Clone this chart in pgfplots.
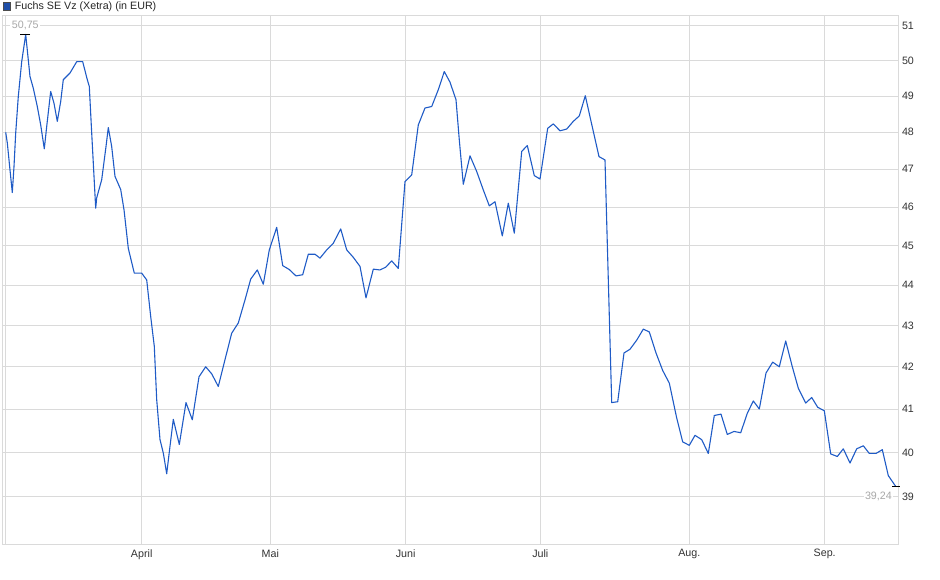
\documentclass[border=0pt]{standalone}
\usepackage{pgfplots}
\pgfplotsset{compat=1.18}
\usepackage{fontspec}
\setmainfont{Liberation Sans}
\definecolor{linecol}{HTML}{1F5BC6}
\definecolor{gridcol}{HTML}{DADADA}
\definecolor{labcol}{HTML}{333333}
\definecolor{extcol}{HTML}{A8A8A8}
\definecolor{boxcol}{HTML}{1F4FA8}
\begin{document}
\begin{tikzpicture}
\useasboundingbox (0pt,0pt) rectangle (940pt,579pt);
% title with legend square
\draw[fill=boxcol, draw=black!70, line width=0.6pt] (3.3pt,569pt) rectangle (10.7pt,576.6pt);
\node[anchor=west, inner sep=0pt, text=black!85, font=\fontsize{10.7}{12}\selectfont] at (14.6pt,572.5pt) {Fuchs SE Vz (Xetra) (in EUR)};
\begin{axis}[
    at={(2.7pt,34pt)}, anchor=south west,
    scale only axis,
    width=895.3pt, height=529pt,
    xmin=2.7, xmax=898,
    ymode=log,
    ymin=37.95, ymax=51.29,
    xtick={141.7,270.3,405.7,540.3,689.3,824.7},
    xticklabels={April,Mai,Juni,Juli,Aug.,Sep.},
    extra x ticks={5.3},
    extra x tick labels={},
    ytick={39,40,41,42,43,44,45,46,47,48,49,50,51},
    yticklabels={39,40,41,42,43,44,45,46,47,48,49,50,51},
    yticklabel pos=right,
    major tick length=0pt,
    grid=major,
    grid style={gridcol, line width=1pt},
    axis line style={gridcol, line width=1pt},
    tick label style={text=labcol, font=\fontsize{10.7}{12}\selectfont},
    yticklabel style={xshift=0.5pt},
    xticklabel style={yshift=-1pt},
    clip=true,
]
\addplot[linecol, line width=1.1pt, line join=round] coordinates {
(5.7,48.0) (7.3,47.71) (10,46.98) (12.3,46.38) (14,47.07) (15.7,47.98)
(18.3,48.99) (21.7,49.97) (25.7,50.75) (30,49.55) (33.3,49.22) (37.3,48.71)
(40.7,48.2) (44.3,47.55) (46.7,48.16) (50.7,49.13) (54,48.80) (57.3,48.30)
(60.7,48.85) (63.3,49.46) (70,49.65) (76.7,49.97) (82.7,49.97) (87.3,49.46)
(89.3,49.27) (91.7,47.98) (95.7,45.97) (96.7,46.24) (101.7,46.72) (106,47.61)
(108.3,48.13) (111.7,47.61) (115,46.81) (120.7,46.46) (124,45.93) (128.3,44.93)
(134.3,44.30) (141.7,44.30) (146.7,44.13) (150.7,43.22) (154.3,42.49) (156.7,41.22)
(160,40.29) (163.3,39.99) (166.7,39.52) (170,40.14) (173.3,40.76) (179.3,40.18)
(186,41.15) (192.3,40.75) (199,41.76) (205.7,42.0) (211.7,41.83) (218.3,41.53)
(225,42.17) (231.7,42.81) (238.3,43.06) (245,43.63) (250.7,44.15) (257.3,44.38)
(263.3,44.02) (269.3,44.89) (276.7,45.47) (282.7,44.49) (289.3,44.39) (296,44.23)
(302.7,44.26) (308.3,44.78) (315,44.78) (320,44.68) (326.7,44.89) (333.3,45.06)
(340.7,45.43) (346.7,44.89) (353.3,44.70) (360,44.47) (366,43.68) (373.3,44.40)
(380,44.38) (385.7,44.45) (391.7,44.61) (398.3,44.42) (405,46.67) (411.7,46.85)
(418.3,48.2) (425,48.67) (431.7,48.71) (438.3,49.18) (444.3,49.69) (450,49.39)
(456,48.9) (459.3,47.79) (463.3,46.6) (470,47.36) (476.7,46.94) (483.3,46.45)
(489.3,46.03) (495,46.14) (502.3,45.25) (508.3,46.1) (514.3,45.32) (521.7,47.48)
(527.3,47.64) (534.3,46.83) (540,46.74) (547.7,48.11) (553.3,48.23) (560,48.04)
(566.7,48.09) (573.3,48.3) (579.3,48.45) (585.3,49.01) (590.7,48.34) (599,47.34)
(605,47.25) (611.7,41.15) (617.7,41.17) (624,42.33) (630,42.42) (636.7,42.64)
(643.3,42.91) (649.3,42.84) (656,42.33) (662.7,41.91) (669.3,41.61) (676.7,40.79)
(682.7,40.24) (689.3,40.16) (695,40.39) (701.7,40.29) (708.3,39.98) (714.3,40.85)
(721,40.88) (727.3,40.41) (734,40.48) (740.7,40.45) (747.3,40.9) (753.3,41.19)
(759.3,41.0) (766,41.85) (772.7,42.11) (779.3,42.0) (785.7,42.62) (792.3,42.0)
(798.3,41.49) (805.7,41.14) (811.7,41.27) (817.7,41.04) (824.3,40.96) (830.7,39.97)
(837.3,39.91) (843.3,40.08) (850,39.76) (856.7,40.08) (863.3,40.15) (869.3,39.98)
(876,39.98) (882.3,40.06) (888.3,39.48) (895.7,39.24)
};
% high and low markers
\addplot[black, line width=1pt, only marks, mark=-, mark size=5pt] coordinates {(25.2,50.75)};
\addplot[black, line width=1pt, only marks, mark=-, mark size=4pt] coordinates {(895.7,39.24)};
\node[fill=white, inner sep=1.5pt, text=extcol, font=\fontsize{10.7}{12}\selectfont] at (axis cs:25.3,51) {50,75};
\node[anchor=east, fill=white, inner sep=1.5pt, text=extcol, font=\fontsize{10.7}{12}\selectfont] at (axis cs:893.5,39) {39,24};
\end{axis}
\end{tikzpicture}
\end{document}
